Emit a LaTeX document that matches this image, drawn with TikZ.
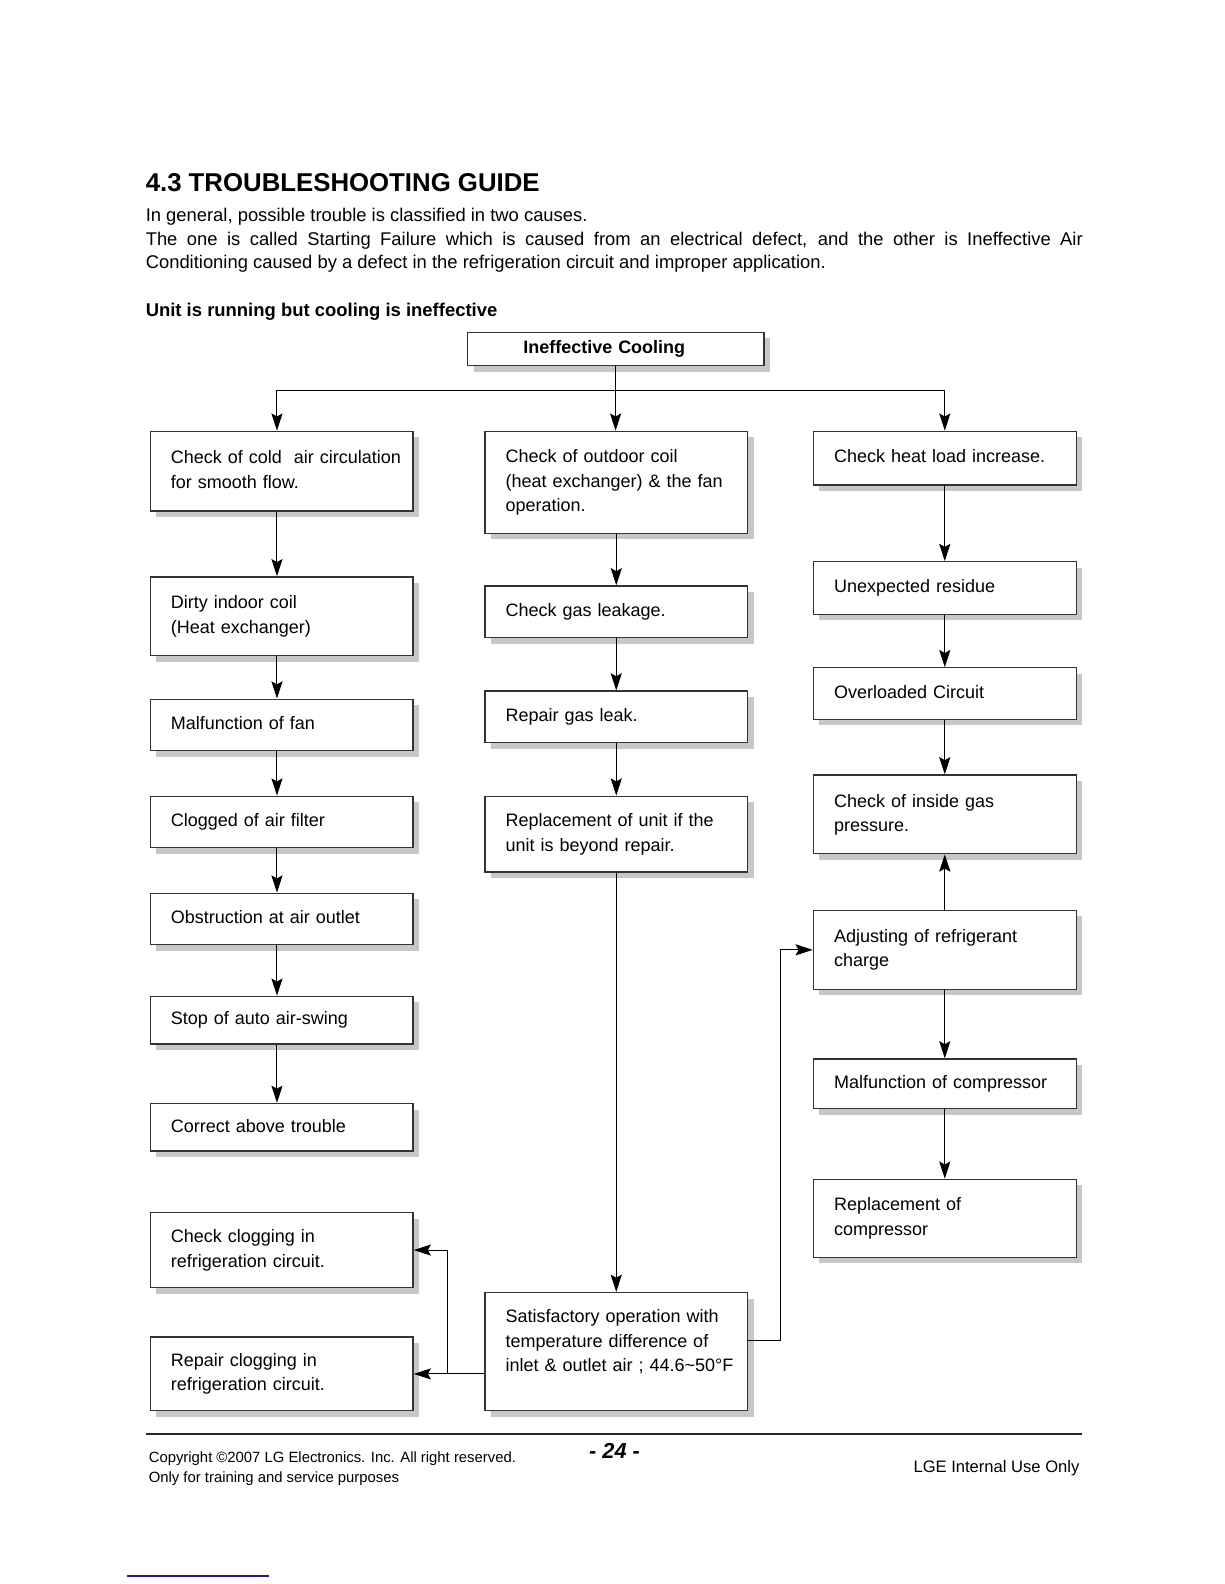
\documentclass[tikz,border=0pt]{standalone}
\usepackage{fontspec}
\setmainfont{Liberation Sans}
\usetikzlibrary{arrows.meta,shadows,calc}
\definecolor{navyline}{RGB}{30,30,140}
\begin{document}
\begin{tikzpicture}[x=1pt,y=-1pt,
  shadowed/.style={draw=black!80, line width=1.3pt, fill=white,
    drop shadow={shadow xshift=6pt, shadow yshift=-6pt, fill=black!22, opacity=1},
    anchor=north west, inner ysep=0pt},
  box/.style={shadowed, minimum width=260pt, text width=250pt, inner xsep=5pt,
    align=left, font=\fontsize{17.8}{24}\selectfont,
    execute at begin node={\leftskip=15.5pt\strut}, execute at end node=\strut},
  arr/.style={line width=1pt, -{Stealth[length=17pt,width=11pt,inset=3pt]}},
  txt/.style={anchor=base west, inner sep=0pt},
  ]
\useasboundingbox (0,0) rectangle (1211,1567);

% header texts
\node[txt, font=\bfseries\fontsize{25.5}{30}\selectfont] (title) at (144,189) {4.3 TROUBLESHOOTING GUIDE};
\node[txt, font=\fontsize{18.2}{24}\selectfont] (p1) at (144,219) {In general, possible trouble is classified in two causes.};
\node[txt, font=\fontsize{18.2}{24}\selectfont] (p2) at (144,243) {\makebox[927pt][s]{The one is called Starting Failure which is caused from an electrical defect, and the other is Ineffective Air}};
\node[txt, font=\fontsize{18.2}{24}\selectfont] (p3) at (144,266) {Conditioning caused by a defect in the refrigeration circuit and improper application.};
\node[txt, font=\bfseries\fontsize{18.25}{24}\selectfont] (hdr) at (144,313) {Unit is running but cooling is ineffective};

% top box
\node[shadowed, minimum width=293pt, minimum height=33pt, text width=183pt, inner xsep=55pt, align=left, font=\bfseries\fontsize{17.8}{24}\selectfont] (top) at (462,328) {\strut Ineffective Cooling};

% column 1
\node[box, minimum height=79pt] (a1) at (148,426) {Check of cold\ \ air circulation\\for smooth flow.};
\node[box, minimum height=78pt] (a2) at (148,570) {Dirty indoor coil\\(Heat exchanger)};
\node[box, minimum height=51pt] (a3) at (148,691) {Malfunction of fan};
\node[box, minimum height=51pt] (a4) at (148,787) {Clogged of air filter};
\node[box, minimum height=51pt] (a5) at (148,883) {Obstruction at air outlet};
\node[box, minimum height=47pt] (a6) at (148,985) {Stop of auto air-swing};
\node[box, minimum height=47pt] (a7) at (148,1091) {Correct above trouble};
\node[box, minimum height=74pt] (a8) at (148,1199) {Check clogging in\\refrigeration circuit.};
\node[box, minimum height=73pt] (a9) at (148,1322) {Repair clogging in\\refrigeration circuit.};

% column 2
\node[box, minimum height=101pt] (b1) at (479,426) {Check of outdoor coil\\(heat exchanger) \& the fan\\operation.};
\node[box, minimum height=51pt] (b2) at (479,579) {Check gas leakage.};
\node[box, minimum height=51pt] (b3) at (479,683) {Repair gas leak.};
\node[box, minimum height=75pt] (b4) at (479,787) {Replacement of unit if the\\unit is beyond repair.};
\node[box, minimum height=117pt] (b5) at (479,1278) {\rule{0pt}{22pt}Satisfactory operation with\\temperature difference of\\inlet \& outlet air ; 44.6\textasciitilde50\textdegree F\\};

% column 3
\node[box, minimum height=53pt] (c1) at (804,426) {Check heat load increase.};
\node[box, minimum height=52pt] (c2) at (804,555) {Unexpected residue};
\node[box, minimum height=51pt] (c3) at (804,660) {Overloaded Circuit};
\node[box, minimum height=78pt] (c4) at (804,766) {Check of inside gas\\pressure.};
\node[box, minimum height=78pt] (c5) at (804,900) {Adjusting of refrigerant\\charge};
\node[box, minimum height=49pt] (c6) at (804,1047) {Malfunction of compressor};
\node[box, minimum height=77pt] (c7) at (804,1166) {Replacement of\\compressor};

% connectors from top
\coordinate (split) at (609,386);
\coordinate (x1) at (274,0);
\coordinate (x2) at (609,0);
\draw[arr] (top.south -| x2) -- (b1.north -| x2);
\draw[line width=1pt] (split) -- (split -| x1);
\draw[arr] (split -| x1) -- (a1.north -| x1);
\draw[arr] (split) -| (c1.north);

% column 1 arrows
\draw[arr] (a1.south -| x1) -- (a2.north -| x1);
\draw[arr] (a2.south -| x1) -- (a3.north -| x1);
\draw[arr] (a3.south -| x1) -- (a4.north -| x1);
\draw[arr] (a4.south -| x1) -- (a5.north -| x1);
\draw[arr] (a5.south -| x1) -- (a6.north -| x1);
\draw[arr] (a6.south -| x1) -- (a7.north -| x1);

% column 2 arrows
\draw[arr] (b1) -- (b2);
\draw[arr] (b2) -- (b3);
\draw[arr] (b3) -- (b4);
\draw[arr] (b4) -- (b5);

% column 3 arrows
\draw[arr] (c1) -- (c2);
\draw[arr] (c2) -- (c3);
\draw[arr] (c3) -- (c4);
\draw[arr] (c5) -- (c4);
\draw[arr] (c5) -- (c6);
\draw[arr] (c6) -- (c7);

% satisfactory box branches
\coordinate (sl) at (b5.west |- a9.east);
\coordinate (j) at (443,1358.5);
\draw[arr] (sl) -- (a9.east);
\draw[arr] (j) |- (a8.east);
\coordinate (sr) at (739,1326);
\coordinate (sr2) at (772,1326);
\draw[arr] (sr) -- (sr2) |- (c5.west);

% footer
\draw[line width=2pt, black!85] (144,1419) -- (1070,1419);
\node[txt, font=\fontsize{14.7}{20}\selectfont] (cp1) at (147,1447) {Copyright ©2007 LG Electronics. Inc. All right reserved.};
\node[txt, font=\fontsize{14.7}{20}\selectfont] (cp2) at (147,1467) {Only for training and service purposes};
\node[anchor=base, inner sep=0pt, font=\bfseries\itshape\fontsize{21.5}{24}\selectfont] (pg) at (608,1443) {- 24 -};
\node[anchor=base east, inner sep=0pt, font=\fontsize{16.4}{20}\selectfont] (lge) at (1068,1457) {LGE Internal Use Only};
\draw[line width=1.5pt, navyline] (126,1559) -- (266,1559);
\end{tikzpicture}
\end{document}
